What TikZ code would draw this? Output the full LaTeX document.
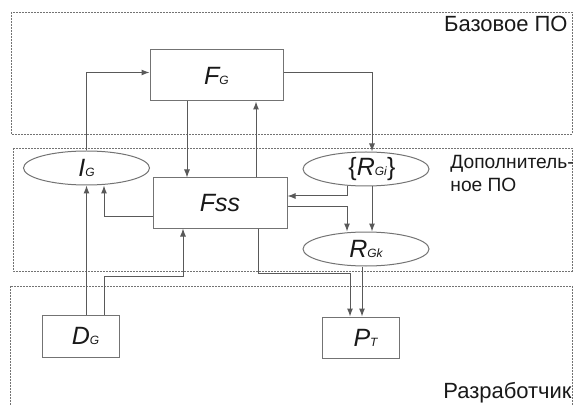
\documentclass[tikz,border=0pt]{standalone}
\usepackage{fontspec}
\setmainfont{Liberation Sans}
\usetikzlibrary{arrows.meta,calc,shapes.geometric}

\newcommand{\lsub}[1]{{\fontsize{6}{7}\selectfont #1}}

\begin{document}
\begin{tikzpicture}[x=0.5pt,y=-0.5pt,
    zone/.style={draw=black!55,dash pattern=on 0.8pt off 0.7pt,line width=0.4pt},
    blk/.style={rectangle,draw=black!55,line width=0.5pt,inner sep=0pt,
                font=\fontsize{12.5}{14}\selectfont\itshape,text=black!90},
    oval/.style={ellipse,draw=black!55,line width=0.5pt,inner sep=0pt,
                 minimum width=63pt,minimum height=17pt,
                 font=\fontsize{12.5}{14}\selectfont\itshape,text=black!90},
    zonetxt/.style={inner sep=0pt,font=\fontsize{11}{11.5}\selectfont,text=black!90},
    arr/.style={draw=black!65,line width=0.5pt,-{Latex[length=4pt,width=3pt]}}]
  \useasboundingbox (0,0) rectangle (576,405);
  % zones
  \draw[zone] (11,12) rectangle (572,134);
  \draw[zone] (13,148) rectangle (572,271);
  \draw[zone] (10,405) -- (10,286) -- (572,286) -- (572,405);
  \node[zonetxt,anchor=base east] (zBase) at (568,32) {Базовое ПО};
  \node[zonetxt,anchor=north west,align=left,font=\fontsize{9.6}{11.5}\selectfont]
       (zExtra) at (450,155) {Дополнитель-\\ное ПО};
  \node[zonetxt,anchor=base east] (zDev) at (572,398) {Разработчик};
  % blocks
  \node[blk,minimum width=66.5pt,minimum height=25.5pt] (FG) at (216.5,75.5) {F\lsub{G}\hspace{10pt}};
  \node[blk,minimum width=67pt,minimum height=25pt] (Fss) at (220,203) {Fss};
  \node[blk,minimum width=38.5pt,minimum height=21pt] (DG) at (80.5,336) {\hspace{5pt}D\lsub{G}};
  \node[blk,minimum width=38.5pt,minimum height=20.5pt] (PT) at (360.5,337.5) {\hspace{5pt}P\lsub{T}};
  \node[oval] (IG) at (86.5,168) {I\lsub{G}};
  \node[oval] (RGi) at (366,169) {\hspace{6pt}\textup{\{}R\lsub{Gi}\textup{\}}};
  \node[oval] (RGk) at (366,249) {R\lsub{Gk}};
  % links
  \draw[arr] (IG.north) |- ($(FG.west)+(0,-3)$);
  \draw[arr] ($(FG.east)+(0,-3)$) -| ($(RGi.north)+(6,0)$);
  \draw[arr] ($(FG.south)+(-29.5,0)$) -- ($(Fss.north)+(-33,0)$);
  \draw[arr] ($(Fss.north)+(36,0)$) -- ($(FG.south)+(39.5,0)$);
  \draw[arr] ($(Fss.west)+(0,14)$) -| ($(IG.south)+(17.5,0)$);
  \draw[arr] (DG.north -| IG.south) -- (IG.south);
  \draw[arr] ($(DG.north)+(23.5,0)$) |- ($(Fss.south)+(-37,48)$) -- ($(Fss.south)+(-37,0)$);
  \draw[arr] ($(Fss.south)+(38,0)$) |- ($(PT.north)+(-10.5,-43)$) -- ($(PT.north)+(-10.5,0)$);
  \draw[arr] ($(RGk.south)+(-4,0)$) -- ($(PT.north)+(1.5,0)$);
  \draw[arr] ($(RGi.south)+(-19,0)$) |- ($(Fss.east)+(0,-7)$);
  \draw[arr] ($(RGi.south)+(6,0)$) -- ($(RGk.north)+(6,0)$);
  \draw[arr] ($(Fss.east)+(0,4)$) -| ($(RGk.north)+(-19,0)$);
\end{tikzpicture}
\end{document}
